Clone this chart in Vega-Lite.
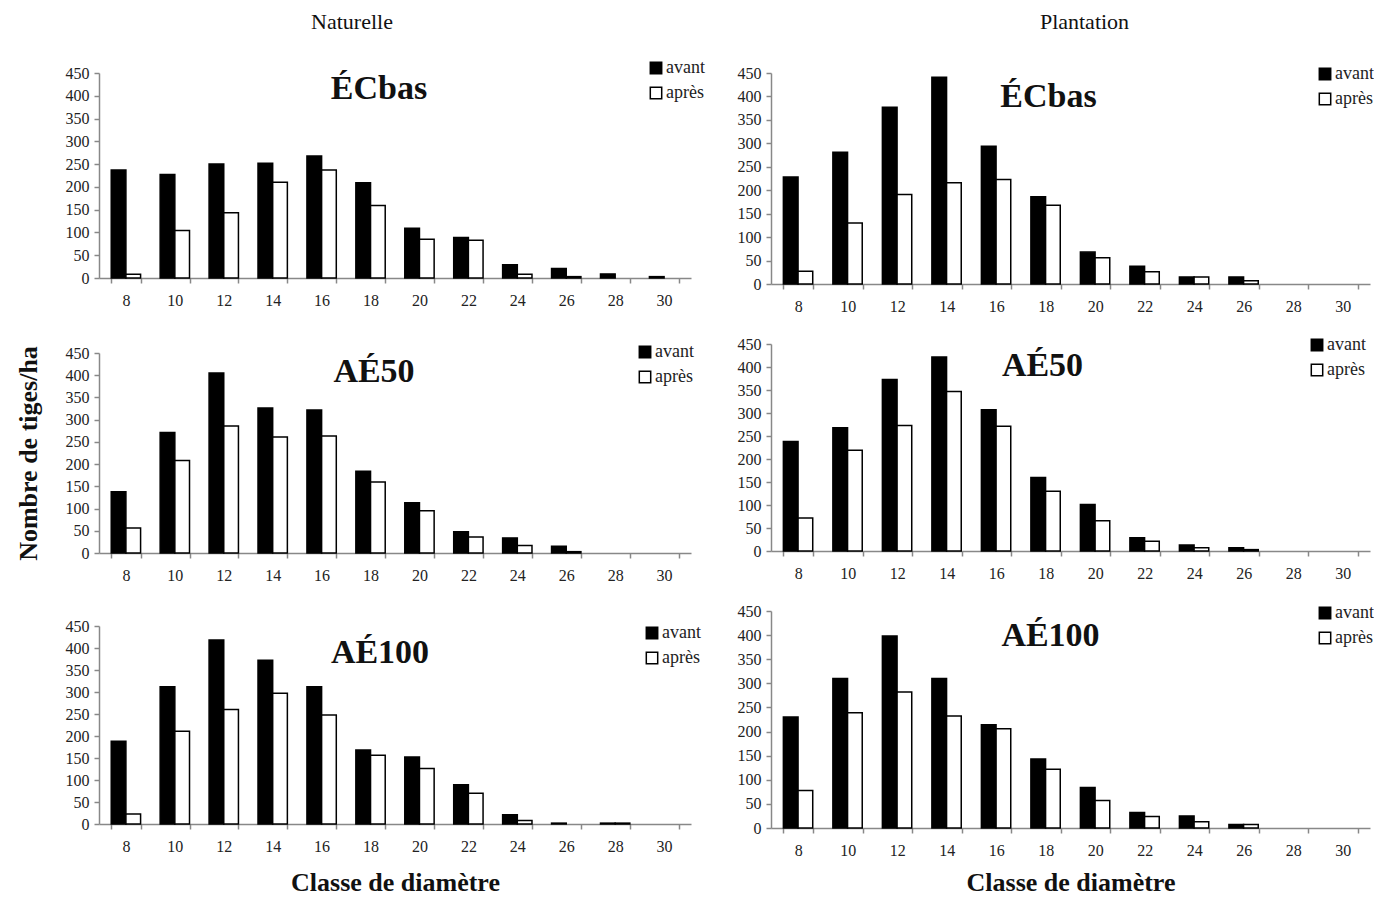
{
  "$schema": "https://vega.github.io/schema/vega-lite/v6.json",
  "background": "white",
  "padding": {"top": 11, "left": 15, "right": 0, "bottom": 0},
  "datasets": {
    "d": [
      {"s":"Naturelle","t":"ÉCbas","c":8,"p":"avant","n":237},{"s":"Naturelle","t":"ÉCbas","c":10,"p":"avant","n":227},{"s":"Naturelle","t":"ÉCbas","c":12,"p":"avant","n":250},{"s":"Naturelle","t":"ÉCbas","c":14,"p":"avant","n":252},{"s":"Naturelle","t":"ÉCbas","c":16,"p":"avant","n":268},{"s":"Naturelle","t":"ÉCbas","c":18,"p":"avant","n":209},{"s":"Naturelle","t":"ÉCbas","c":20,"p":"avant","n":109},{"s":"Naturelle","t":"ÉCbas","c":22,"p":"avant","n":89},{"s":"Naturelle","t":"ÉCbas","c":24,"p":"avant","n":29},{"s":"Naturelle","t":"ÉCbas","c":26,"p":"avant","n":21},{"s":"Naturelle","t":"ÉCbas","c":28,"p":"avant","n":9},{"s":"Naturelle","t":"ÉCbas","c":30,"p":"avant","n":3},
      {"s":"Naturelle","t":"ÉCbas","c":8,"p":"après","n":8},{"s":"Naturelle","t":"ÉCbas","c":10,"p":"après","n":104},{"s":"Naturelle","t":"ÉCbas","c":12,"p":"après","n":143},{"s":"Naturelle","t":"ÉCbas","c":14,"p":"après","n":210},{"s":"Naturelle","t":"ÉCbas","c":16,"p":"après","n":237},{"s":"Naturelle","t":"ÉCbas","c":18,"p":"après","n":159},{"s":"Naturelle","t":"ÉCbas","c":20,"p":"après","n":85},{"s":"Naturelle","t":"ÉCbas","c":22,"p":"après","n":83},{"s":"Naturelle","t":"ÉCbas","c":24,"p":"après","n":8},{"s":"Naturelle","t":"ÉCbas","c":26,"p":"après","n":3},
      {"s":"Plantation","t":"ÉCbas","c":8,"p":"avant","n":228},{"s":"Plantation","t":"ÉCbas","c":10,"p":"avant","n":281},{"s":"Plantation","t":"ÉCbas","c":12,"p":"avant","n":377},{"s":"Plantation","t":"ÉCbas","c":14,"p":"avant","n":441},{"s":"Plantation","t":"ÉCbas","c":16,"p":"avant","n":294},{"s":"Plantation","t":"ÉCbas","c":18,"p":"avant","n":186},{"s":"Plantation","t":"ÉCbas","c":20,"p":"avant","n":68},{"s":"Plantation","t":"ÉCbas","c":22,"p":"avant","n":38},{"s":"Plantation","t":"ÉCbas","c":24,"p":"avant","n":15},{"s":"Plantation","t":"ÉCbas","c":26,"p":"avant","n":15},
      {"s":"Plantation","t":"ÉCbas","c":8,"p":"après","n":27},{"s":"Plantation","t":"ÉCbas","c":10,"p":"après","n":130},{"s":"Plantation","t":"ÉCbas","c":12,"p":"après","n":191},{"s":"Plantation","t":"ÉCbas","c":14,"p":"après","n":216},{"s":"Plantation","t":"ÉCbas","c":16,"p":"après","n":223},{"s":"Plantation","t":"ÉCbas","c":18,"p":"après","n":168},{"s":"Plantation","t":"ÉCbas","c":20,"p":"après","n":56},{"s":"Plantation","t":"ÉCbas","c":22,"p":"après","n":26},{"s":"Plantation","t":"ÉCbas","c":24,"p":"après","n":15},{"s":"Plantation","t":"ÉCbas","c":26,"p":"après","n":7},
      {"s":"Naturelle","t":"AÉ50","c":8,"p":"avant","n":138},{"s":"Naturelle","t":"AÉ50","c":10,"p":"avant","n":271},{"s":"Naturelle","t":"AÉ50","c":12,"p":"avant","n":405},{"s":"Naturelle","t":"AÉ50","c":14,"p":"avant","n":326},{"s":"Naturelle","t":"AÉ50","c":16,"p":"avant","n":322},{"s":"Naturelle","t":"AÉ50","c":18,"p":"avant","n":184},{"s":"Naturelle","t":"AÉ50","c":20,"p":"avant","n":113},{"s":"Naturelle","t":"AÉ50","c":22,"p":"avant","n":48},{"s":"Naturelle","t":"AÉ50","c":24,"p":"avant","n":34},{"s":"Naturelle","t":"AÉ50","c":26,"p":"avant","n":15},
      {"s":"Naturelle","t":"AÉ50","c":8,"p":"après","n":56},{"s":"Naturelle","t":"AÉ50","c":10,"p":"après","n":208},{"s":"Naturelle","t":"AÉ50","c":12,"p":"après","n":286},{"s":"Naturelle","t":"AÉ50","c":14,"p":"après","n":261},{"s":"Naturelle","t":"AÉ50","c":16,"p":"après","n":263},{"s":"Naturelle","t":"AÉ50","c":18,"p":"après","n":160},{"s":"Naturelle","t":"AÉ50","c":20,"p":"après","n":95},{"s":"Naturelle","t":"AÉ50","c":22,"p":"après","n":36},{"s":"Naturelle","t":"AÉ50","c":24,"p":"après","n":17},{"s":"Naturelle","t":"AÉ50","c":26,"p":"après","n":3},
      {"s":"Plantation","t":"AÉ50","c":8,"p":"avant","n":238},{"s":"Plantation","t":"AÉ50","c":10,"p":"avant","n":268},{"s":"Plantation","t":"AÉ50","c":12,"p":"avant","n":373},{"s":"Plantation","t":"AÉ50","c":14,"p":"avant","n":422},{"s":"Plantation","t":"AÉ50","c":16,"p":"avant","n":307},{"s":"Plantation","t":"AÉ50","c":18,"p":"avant","n":160},{"s":"Plantation","t":"AÉ50","c":20,"p":"avant","n":101},{"s":"Plantation","t":"AÉ50","c":22,"p":"avant","n":29},{"s":"Plantation","t":"AÉ50","c":24,"p":"avant","n":13},{"s":"Plantation","t":"AÉ50","c":26,"p":"avant","n":7},
      {"s":"Plantation","t":"AÉ50","c":8,"p":"après","n":72},{"s":"Plantation","t":"AÉ50","c":10,"p":"après","n":219},{"s":"Plantation","t":"AÉ50","c":12,"p":"après","n":273},{"s":"Plantation","t":"AÉ50","c":14,"p":"après","n":347},{"s":"Plantation","t":"AÉ50","c":16,"p":"après","n":271},{"s":"Plantation","t":"AÉ50","c":18,"p":"après","n":130},{"s":"Plantation","t":"AÉ50","c":20,"p":"après","n":66},{"s":"Plantation","t":"AÉ50","c":22,"p":"après","n":21},{"s":"Plantation","t":"AÉ50","c":24,"p":"après","n":7},{"s":"Plantation","t":"AÉ50","c":26,"p":"après","n":3},
      {"s":"Naturelle","t":"AÉ100","c":8,"p":"avant","n":188},{"s":"Naturelle","t":"AÉ100","c":10,"p":"avant","n":312},{"s":"Naturelle","t":"AÉ100","c":12,"p":"avant","n":418},{"s":"Naturelle","t":"AÉ100","c":14,"p":"avant","n":372},{"s":"Naturelle","t":"AÉ100","c":16,"p":"avant","n":312},{"s":"Naturelle","t":"AÉ100","c":18,"p":"avant","n":168},{"s":"Naturelle","t":"AÉ100","c":20,"p":"avant","n":152},{"s":"Naturelle","t":"AÉ100","c":22,"p":"avant","n":89},{"s":"Naturelle","t":"AÉ100","c":24,"p":"avant","n":21},{"s":"Naturelle","t":"AÉ100","c":26,"p":"avant","n":2},{"s":"Naturelle","t":"AÉ100","c":28,"p":"avant","n":2},
      {"s":"Naturelle","t":"AÉ100","c":8,"p":"après","n":23},{"s":"Naturelle","t":"AÉ100","c":10,"p":"après","n":211},{"s":"Naturelle","t":"AÉ100","c":12,"p":"après","n":260},{"s":"Naturelle","t":"AÉ100","c":14,"p":"après","n":297},{"s":"Naturelle","t":"AÉ100","c":16,"p":"après","n":248},{"s":"Naturelle","t":"AÉ100","c":18,"p":"après","n":156},{"s":"Naturelle","t":"AÉ100","c":20,"p":"après","n":126},{"s":"Naturelle","t":"AÉ100","c":22,"p":"après","n":70},{"s":"Naturelle","t":"AÉ100","c":24,"p":"après","n":8},{"s":"Naturelle","t":"AÉ100","c":28,"p":"après","n":2},
      {"s":"Plantation","t":"AÉ100","c":8,"p":"avant","n":230},{"s":"Plantation","t":"AÉ100","c":10,"p":"avant","n":310},{"s":"Plantation","t":"AÉ100","c":12,"p":"avant","n":398},{"s":"Plantation","t":"AÉ100","c":14,"p":"avant","n":310},{"s":"Plantation","t":"AÉ100","c":16,"p":"avant","n":214},{"s":"Plantation","t":"AÉ100","c":18,"p":"avant","n":143},{"s":"Plantation","t":"AÉ100","c":20,"p":"avant","n":84},{"s":"Plantation","t":"AÉ100","c":22,"p":"avant","n":32},{"s":"Plantation","t":"AÉ100","c":24,"p":"avant","n":25},{"s":"Plantation","t":"AÉ100","c":26,"p":"avant","n":7},
      {"s":"Plantation","t":"AÉ100","c":8,"p":"après","n":78},{"s":"Plantation","t":"AÉ100","c":10,"p":"après","n":239},{"s":"Plantation","t":"AÉ100","c":12,"p":"après","n":282},{"s":"Plantation","t":"AÉ100","c":14,"p":"après","n":232},{"s":"Plantation","t":"AÉ100","c":16,"p":"après","n":206},{"s":"Plantation","t":"AÉ100","c":18,"p":"après","n":122},{"s":"Plantation","t":"AÉ100","c":20,"p":"après","n":57},{"s":"Plantation","t":"AÉ100","c":22,"p":"après","n":24},{"s":"Plantation","t":"AÉ100","c":24,"p":"après","n":13},{"s":"Plantation","t":"AÉ100","c":26,"p":"après","n":7}
    ]
  },
  "resolve": {"scale": {"fill": "independent"}, "legend": {"fill": "independent"}},
  "spacing": 32,
  "hconcat": [
    {
      "title": {"text": "Naturelle", "font": "Liberation Serif", "fontSize": 22, "fontWeight": "normal", "color": "#111", "anchor": "middle", "offset": 25, "dx": -8},
      "resolve": {"scale": {"fill": "independent"}, "legend": {"fill": "independent"}},
      "spacing": 35,
      "vconcat": [
        {
          "width": 592, "height": 205,
          "data": {"name": "d"},
          "transform": [{"filter": "datum.s === 'Naturelle' && datum.t === 'ÉCbas'"}],
          "title": {"text": "ÉCbas", "font": "Liberation Serif", "fontSize": 34, "fontWeight": "bold", "color": "#111", "anchor": "middle", "offset": -47, "dx": -16},
          "mark": {"type": "bar", "stroke": "black", "strokeWidth": 1.5},
          "encoding": {
            "x": {"field": "c", "type": "ordinal", "scale": {"domain": [8,10,12,14,16,18,20,22,24,26,28,30], "paddingInner": 0.4, "paddingOuter": 0.25}, "axis": {"title": null}},
            "xOffset": {"field": "p", "type": "nominal", "scale": {"domain": ["avant", "après"]}},
            "y": {"field": "n", "type": "quantitative", "scale": {"domain": [0, 450]}, "axis": {"title": null, "values": [0,50,100,150,200,250,300,350,400,450]}},
            "fill": {"field": "p", "type": "nominal", "scale": {"domain": ["avant", "après"], "range": ["black", "white"]}, "legend": {"orient": "none", "legendX": 548, "legendY": -14}}
          }
        },
        {
          "width": 592, "height": 200,
          "data": {"name": "d"},
          "transform": [{"filter": "datum.s === 'Naturelle' && datum.t === 'AÉ50'"}],
          "title": {"text": "AÉ50", "font": "Liberation Serif", "fontSize": 34, "fontWeight": "bold", "color": "#111", "anchor": "middle", "offset": -46, "dx": -21},
          "mark": {"type": "bar", "stroke": "black", "strokeWidth": 1.5},
          "encoding": {
            "x": {"field": "c", "type": "ordinal", "scale": {"domain": [8,10,12,14,16,18,20,22,24,26,28,30], "paddingInner": 0.4, "paddingOuter": 0.25}, "axis": {"title": null}},
            "xOffset": {"field": "p", "type": "nominal", "scale": {"domain": ["avant", "après"]}},
            "y": {"field": "n", "type": "quantitative", "scale": {"domain": [0, 450]}, "axis": {"title": "Nombre de tiges/ha", "titlePadding": 24, "values": [0,50,100,150,200,250,300,350,400,450]}},
            "fill": {"field": "p", "type": "nominal", "scale": {"domain": ["avant", "après"], "range": ["black", "white"]}, "legend": {"orient": "none", "legendX": 537, "legendY": -10}}
          }
        },
        {
          "width": 592, "height": 198,
          "data": {"name": "d"},
          "transform": [{"filter": "datum.s === 'Naturelle' && datum.t === 'AÉ100'"}],
          "title": {"text": "AÉ100", "font": "Liberation Serif", "fontSize": 34, "fontWeight": "bold", "color": "#111", "anchor": "middle", "offset": -52, "dx": -15},
          "mark": {"type": "bar", "stroke": "black", "strokeWidth": 1.5},
          "encoding": {
            "x": {"field": "c", "type": "ordinal", "scale": {"domain": [8,10,12,14,16,18,20,22,24,26,28,30], "paddingInner": 0.4, "paddingOuter": 0.25}, "axis": {"title": "Classe de diamètre", "titlePadding": 15}},
            "xOffset": {"field": "p", "type": "nominal", "scale": {"domain": ["avant", "après"]}},
            "y": {"field": "n", "type": "quantitative", "scale": {"domain": [0, 450]}, "axis": {"title": null, "values": [0,50,100,150,200,250,300,350,400,450]}},
            "fill": {"field": "p", "type": "nominal", "scale": {"domain": ["avant", "après"], "range": ["black", "white"]}, "legend": {"orient": "none", "legendX": 544, "legendY": -2}}
          }
        }
      ]
    },
    {
      "title": {"text": "Plantation", "font": "Liberation Serif", "fontSize": 22, "fontWeight": "normal", "color": "#111", "anchor": "middle", "offset": 31, "dx": 29},
      "resolve": {"scale": {"fill": "independent"}, "legend": {"fill": "independent"}},
      "spacing": 22,
      "vconcat": [
        {
          "width": 599, "height": 211,
          "data": {"name": "d"},
          "transform": [{"filter": "datum.s === 'Plantation' && datum.t === 'ÉCbas'"}],
          "title": {"text": "ÉCbas", "font": "Liberation Serif", "fontSize": 34, "fontWeight": "bold", "color": "#111", "anchor": "middle", "offset": -49, "dx": -22},
          "mark": {"type": "bar", "stroke": "black", "strokeWidth": 1.5},
          "encoding": {
            "x": {"field": "c", "type": "ordinal", "scale": {"domain": [8,10,12,14,16,18,20,22,24,26,28,30], "paddingInner": 0.4, "paddingOuter": 0.25}, "axis": {"title": null}},
            "xOffset": {"field": "p", "type": "nominal", "scale": {"domain": ["avant", "après"]}},
            "y": {"field": "n", "type": "quantitative", "scale": {"domain": [0, 450]}, "axis": {"title": null, "values": [0,50,100,150,200,250,300,350,400,450]}},
            "fill": {"field": "p", "type": "nominal", "scale": {"domain": ["avant", "après"], "range": ["black", "white"]}, "legend": {"orient": "none", "legendX": 545, "legendY": -8}}
          }
        },
        {
          "width": 599, "height": 207,
          "data": {"name": "d"},
          "transform": [{"filter": "datum.s === 'Plantation' && datum.t === 'AÉ50'"}],
          "title": {"text": "AÉ50", "font": "Liberation Serif", "fontSize": 34, "fontWeight": "bold", "color": "#111", "anchor": "middle", "offset": -47, "dx": -28},
          "mark": {"type": "bar", "stroke": "black", "strokeWidth": 1.5},
          "encoding": {
            "x": {"field": "c", "type": "ordinal", "scale": {"domain": [8,10,12,14,16,18,20,22,24,26,28,30], "paddingInner": 0.4, "paddingOuter": 0.25}, "axis": {"title": null}},
            "xOffset": {"field": "p", "type": "nominal", "scale": {"domain": ["avant", "après"]}},
            "y": {"field": "n", "type": "quantitative", "scale": {"domain": [0, 450]}, "axis": {"title": null, "values": [0,50,100,150,200,250,300,350,400,450]}},
            "fill": {"field": "p", "type": "nominal", "scale": {"domain": ["avant", "après"], "range": ["black", "white"]}, "legend": {"orient": "none", "legendX": 537, "legendY": -8}}
          }
        },
        {
          "width": 599, "height": 217,
          "data": {"name": "d"},
          "transform": [{"filter": "datum.s === 'Plantation' && datum.t === 'AÉ100'"}],
          "title": {"text": "AÉ100", "font": "Liberation Serif", "fontSize": 34, "fontWeight": "bold", "color": "#111", "anchor": "middle", "offset": -50, "dx": -20},
          "mark": {"type": "bar", "stroke": "black", "strokeWidth": 1.5},
          "encoding": {
            "x": {"field": "c", "type": "ordinal", "scale": {"domain": [8,10,12,14,16,18,20,22,24,26,28,30], "paddingInner": 0.4, "paddingOuter": 0.25}, "axis": {"title": "Classe de diamètre", "titlePadding": 11}},
            "xOffset": {"field": "p", "type": "nominal", "scale": {"domain": ["avant", "après"]}},
            "y": {"field": "n", "type": "quantitative", "scale": {"domain": [0, 450]}, "axis": {"title": null, "values": [0,50,100,150,200,250,300,350,400,450]}},
            "fill": {"field": "p", "type": "nominal", "scale": {"domain": ["avant", "après"], "range": ["black", "white"]}, "legend": {"orient": "none", "legendX": 545, "legendY": -7}}
          }
        }
      ]
    }
  ],
  "config": {
    "view": {"stroke": null},
    "axis": {"labelFont": "Liberation Serif", "labelFontSize": 16, "labelColor": "#222", "domainColor": "#888", "domainWidth": 1.5, "tickColor": "#888", "tickWidth": 1.5, "tickSize": 5, "grid": false, "titleFont": "Liberation Serif", "titleFontSize": 26, "titleFontWeight": "bold", "titleColor": "#111"},
    "axisX": {"labelAngle": 0, "tickBand": "extent", "labelPadding": 9},
    "axisY": {"labelPadding": 5},
    "legend": {"title": null, "symbolType": "square", "symbolSize": 130, "symbolStrokeColor": "black", "symbolStrokeWidth": 1.5, "labelFont": "Liberation Serif", "labelFontSize": 18, "labelColor": "#222", "labelOffset": 1, "rowPadding": 7, "padding": 0}
  }
}
